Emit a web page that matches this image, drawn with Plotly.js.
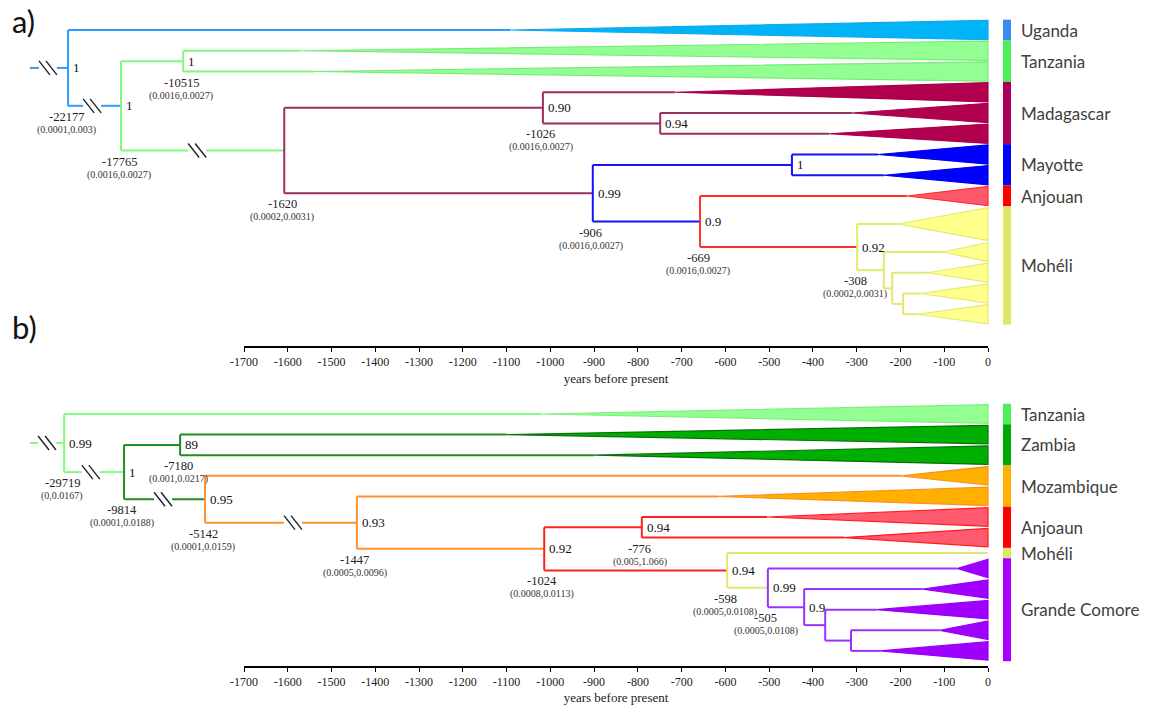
<!DOCTYPE html>
<html><head><meta charset="utf-8">
<script src="https://cdn.plot.ly/plotly-3.0.1.min.js"></script>
<style>html,body{margin:0;padding:0;background:#fff}#chart{width:1163px;height:705px}</style>
</head><body><div id="chart"></div>
<script>
// ================= DATA: tree a) =================
const aTipParent = ['n1','n3','n3','n5','n6','n6','n8','n8','n9','n10','n11','n12','n13','n13'];
const aTipWedgeStart = [-1092,-1570,-1540,-715,-311,-363,-251,-238,-185,-206,-103,-139,-155,-162];
const aTipRows = [1,1,1,1,1,1,1,1,1,1.7,1,1,1,1];
const aTipGroup = ['Uganda','Tanzania','Tanzania','Madagascar','Madagascar','Madagascar','Mayotte','Mayotte','Anjouan','Mohéli','Mohéli','Mohéli','Mohéli','Mohéli'];

const aNodeId = ['n1','n2','n3','n4','n5','n6','n7','n8','n9','n10','n11','n12','n13'];
const aNodeParent = [null,'n1','n2','n2','n4','n5','n4','n7','n7','n9','n10','n11','n12'];
const aNodeX = [-2102,-1981,-1839,-1608,-1017,-749,-903,-448,-658,-299,-238,-219,-194];
const aNodeSupport = ['1','1','1','','0.90','0.94','0.99','1','0.9','0.92','','',''];
const aNodeAge = ['-22177','-17765','-10515','-1620','-1026','','-906','','-669','-308','','',''];
const aNodeCI = ['(0.0001,0.003)','(0.0016,0.0027)','(0.0016,0.0027)','(0.0002,0.0031)','(0.0016,0.0027)','','(0.0016,0.0027)','','(0.0016,0.0027)','(0.0002,0.0031)','','',''];
const aNodeGroup = ['Uganda','Tanzania','Tanzania','Madagascar','Madagascar','Madagascar','Mayotte','Mayotte','Anjouan','Mohéli','Mohéli','Mohéli','Mohéli'];
const aRootStart = -2189;
const aBreakEdge = ['root','n2','n4'];
const aBreakX = [-2148,-2047,-1807];
const aLegendNames = ['Uganda','Tanzania','Madagascar','Mayotte','Anjouan','Mohéli'];

// ================= DATA: tree b) =================
const bTipParent = ['m1','m3','m3','m4','m5','m7','m7','m8','m9','m10','m11','m12','m12'];
const bTipWedgeStart = [-1020,-1100,-900,-199,-617,-505,-329,null,-71,-149,-254,-110,-247];
const bTipRows = [1,1,1,1,1,1,1,0.5,1,1,1,1,1];
const bTipGroup = ['Tanzania','Zambia','Zambia','Mozambique','Mozambique','Anjoaun','Anjoaun','Mohéli','Grande Comore','Grande Comore','Grande Comore','Grande Comore','Grande Comore'];

const bNodeId = ['m1','m2','m3','m4','m5','m6','m7','m8','m9','m10','m11','m12'];
const bNodeParent = [null,'m1','m2','m2','m4','m5','m6','m6','m8','m9','m10','m11'];
const bNodeX = [-2111,-1974,-1846,-1789,-1442,-1014,-791,-596,-503,-420,-372,-313];
const bNodeSupport = ['0.99','1','89','0.95','0.93','0.92','0.94','0.94','0.99','0.9','',''];
const bNodeAge = ['-29719','-9814','-7180','-5142','-1447','-1024','-776','-598','-505','','',''];
const bNodeCI = ['(0,0.0167)','(0.0001,0.0188)','(0.001,0.0217)','(0.0001,0.0159)','(0.0005,0.0096)','(0.0008,0.0113)','(0.005,1.066)','(0.0005,0.0108)','(0.0005,0.0108)','','',''];
const bNodeGroup = ['Tanzania','Zambia','Zambia','Mozambique','Mozambique','Anjoaun','Anjoaun','Mohéli','Grande Comore','Grande Comore','Grande Comore','Grande Comore'];
const bRootStart = -2189;
const bBreakEdge = ['root','m2','m4','m5'];
const bBreakX = [-2150,-2050,-1885,-1588];
const bLegendNames = ['Tanzania','Zambia','Mozambique','Anjoaun','Mohéli','Grande Comore'];

const tickVals = [-1700,-1600,-1500,-1400,-1300,-1200,-1100,-1000,-900,-800,-700,-600,-500,-400,-300,-200,-100,0];
const axisTitle = 'years before present';

// ================= STYLE =================
const W = 1163, H = 705;
const AX_PX0 = 244, AX_PX1 = 988;          // pixel span of -1700..0
const pxPerYear = (AX_PX1 - AX_PX0) / 1700;
const yrAt = p => (p - AX_PX1) / pxPerYear;

const styleA = {
  'Uganda':     {line:'#2F9BFF', fill:'#00B4F5', edge:'#10A8F0', bar:'#3A8CF5'},
  'Tanzania':   {line:'#80F880', fill:'#93FF93', edge:'#78EC78', bar:'#4DEE5A'},
  'Madagascar': {line:'#9B2D62', fill:'#B0004E', edge:'#A8004C', bar:'#A8005A'},
  'Mayotte':    {line:'#1414F5', fill:'#0000FF', edge:'#0000F0', bar:'#0000FF'},
  'Anjouan':    {line:'#FF3030', fill:'#FF5A6A', edge:'#FF2A2A', bar:'#FF0000'},
  'Mohéli':     {line:'#E4E86E', fill:'#FFFF8C', edge:'#E4EA6E', bar:'#DDE86A'}
};
const styleB = {
  'Tanzania':      {line:'#80FF80', fill:'#93FF93', edge:'#7BF07B', bar:'#4DF05A'},
  'Zambia':        {line:'#1E8C1E', fill:'#00B000', edge:'#0A6E0A', bar:'#00A800'},
  'Mozambique':    {line:'#FF9030', fill:'#FFB000', edge:'#FF9020', bar:'#FFB000'},
  'Anjoaun':       {line:'#FF2020', fill:'#FF5A6E', edge:'#FF1A1A', bar:'#FF0000'},
  'Mohéli':        {line:'#E2E66E', fill:'#FFFF8C', edge:'#E2E66E', bar:'#DDE86A'},
  'Grande Comore': {line:'#9B30FF', fill:'#A000FF', edge:'#9A00F0', bar:'#A800FF'}
};

const traces = [];
const annotations = [];
const shapes = [];
const serif = 'Liberation Serif';
const sans = 'Lato';

function buildTree(T, S, top, step, wedgeFrac){
  const tipY = []; let cum = 0;
  T.tipRows.forEach(r => { tipY.push(top + (cum + r/2 - T.tipRows[0]/2) * step); cum += r; });
  const n = T.nodeId.length;
  const idx = {}; T.nodeId.forEach((id,i)=>idx[id]=i);
  const nodeY = new Array(n), nodeTop = new Array(n), nodeBot = new Array(n);
  for (let i = n-1; i >= 0; i--) {
    const ys = [];
    T.tipParent.forEach((p,k)=>{ if(p===T.nodeId[i]) ys.push(tipY[k]); });
    T.nodeParent.forEach((p,k)=>{ if(p===T.nodeId[i]) ys.push(nodeY[k]); });
    nodeTop[i] = Math.min(...ys); nodeBot[i] = Math.max(...ys);
    nodeY[i] = (nodeTop[i] + nodeBot[i]) / 2;
  }
  const lines = {}; Object.keys(S).forEach(g => lines[g] = {x:[], y:[]});
  const slash = {x:[], y:[]};
  const gap = 9 / pxPerYear, sw = 11 / pxPerYear, so = 7 / pxPerYear, sh = 7;
  const breakFor = key => { const j = T.breakEdge.indexOf(key); return j < 0 ? null : T.breakX[j]; };
  function hseg(g, x0, x1, y, key){
    const b = breakFor(key);
    const L = lines[g];
    if (b === null) { L.x.push(x0, x1, null); L.y.push(y, y, null); }
    else {
      L.x.push(x0, b - gap, null, b + gap, x1, null); L.y.push(y, y, null, y, y, null);
      slash.x.push(b - so/2 - sw/2, b - so/2 + sw/2, null, b + so/2 - sw/2, b + so/2 + sw/2, null);
      slash.y.push(y - sh, y + sh, null, y - sh, y + sh, null);
    }
  }
  const r = T.nodeParent.indexOf(null);
  hseg(T.nodeGroup[r], T.rootStart, T.nodeX[r], nodeY[r], 'root');
  for (let i = 0; i < n; i++) {
    const p = T.nodeParent[i];
    if (p !== null) hseg(T.nodeGroup[idx[p]], T.nodeX[idx[p]], T.nodeX[i], nodeY[i], T.nodeId[i]);
    const L = lines[T.nodeGroup[i]];
    L.x.push(T.nodeX[i], T.nodeX[i], null); L.y.push(nodeTop[i], nodeBot[i], null);
  }
  T.tipParent.forEach((p,k) => {
    const pi = idx[p];
    const ws = T.wedgeStart[k];
    hseg(T.nodeGroup[pi], T.nodeX[pi], ws === null ? 0 : ws, tipY[k], 'tip'+k);
    if (ws !== null) {
      const h = wedgeFrac * T.tipRows[k] * step / 2;
      const st = S[T.tipGroup[k]];
      traces.push({type:'scatter', mode:'lines', x:[ws, 0, 0, ws], y:[tipY[k], tipY[k]-h, tipY[k]+h, tipY[k]],
        fill:'toself', fillcolor:st.fill, line:{color:st.edge, width:1.2}, hoverinfo:'skip', showlegend:false, xaxis:'x', yaxis:'y'});
    }
  });
  Object.keys(lines).forEach(g => {
    if (lines[g].x.length) traces.push({type:'scatter', mode:'lines', x:lines[g].x, y:lines[g].y,
      line:{color:S[g].line, width:2}, hoverinfo:'skip', showlegend:false, xaxis:'x', yaxis:'y'});
  });
  traces.push({type:'scatter', mode:'lines', x:slash.x, y:slash.y, line:{color:'#222', width:1.4},
    hoverinfo:'skip', showlegend:false, xaxis:'x', yaxis:'y'});
  for (let i = 0; i < n; i++) {
    if (T.support[i]) annotations.push({x:T.nodeX[i], y:nodeY[i], xref:'x', yref:'y', text:T.support[i], showarrow:false,
      xanchor:'left', yanchor:'middle', xshift:3, font:{family:serif, size:13, color:'#111'}});
    if (T.age[i]) annotations.push({x:T.nodeX[i], y:nodeBot[i] + 11, xref:'x', yref:'y', text:T.age[i], showarrow:false,
      xanchor:'center', yanchor:'middle', xshift:-2, font:{family:serif, size:12.5, color:'#222'}});
    if (T.ci[i]) annotations.push({x:T.nodeX[i], y:nodeBot[i] + 24, xref:'x', yref:'y', text:T.ci[i], showarrow:false,
      xanchor:'center', yanchor:'middle', xshift:-2, font:{family:serif, size:10, color:'#333'}});
  }
  T.legend.forEach(g => {
    const ks = []; T.tipGroup.forEach((tg,k)=>{ if(tg===g) ks.push(k); });
    const y0 = tipY[ks[0]] - T.tipRows[ks[0]]*step/2;
    const y1 = tipY[ks[ks.length-1]] + T.tipRows[ks[ks.length-1]]*step/2;
    shapes.push({type:'rect', xref:'paper', yref:'y', x0:1003/W, x1:1011/W, y0:y0, y1:y1,
      fillcolor:S[g].bar, line:{width:0}});
    annotations.push({xref:'paper', yref:'y', x:1019/W, y:(y0+y1)/2, text:g, showarrow:false,
      xanchor:'left', yanchor:'middle', font:{family:sans, size:17, color:'#404040'}});
  });
}

buildTree({tipParent:aTipParent, wedgeStart:aTipWedgeStart, tipRows:aTipRows, tipGroup:aTipGroup,
  nodeId:aNodeId, nodeParent:aNodeParent, nodeX:aNodeX, support:aNodeSupport, age:aNodeAge, ci:aNodeCI,
  nodeGroup:aNodeGroup, rootStart:aRootStart, breakEdge:aBreakEdge, breakX:aBreakX, legend:aLegendNames},
  styleA, 30, 20.75, 0.93);
buildTree({tipParent:bTipParent, wedgeStart:bTipWedgeStart, tipRows:bTipRows, tipGroup:bTipGroup,
  nodeId:bNodeId, nodeParent:bNodeParent, nodeX:bNodeX, support:bNodeSupport, age:bNodeAge, ci:bNodeCI,
  nodeGroup:bNodeGroup, rootStart:bRootStart, breakEdge:bBreakEdge, breakX:bBreakX, legend:bLegendNames},
  styleB, 414, 20.6, 0.9);

annotations.push({xref:'paper', yref:'paper', x:10/W, y:1-21/H, text:'a)', showarrow:false, xanchor:'left', yanchor:'middle',
  font:{family:sans, size:31, color:'#111'}});
annotations.push({xref:'paper', yref:'paper', x:10/W, y:1-327/H, text:'b)', showarrow:false, xanchor:'left', yanchor:'middle',
  font:{family:sans, size:31, color:'#111'}});

traces.push({type:'scatter', mode:'markers', x:[-1700,0], y:[0,0], marker:{opacity:0}, hoverinfo:'skip', showlegend:false, xaxis:'x2', yaxis:'y2'});
traces.push({type:'scatter', mode:'markers', x:[-1700,0], y:[0,0], marker:{opacity:0}, hoverinfo:'skip', showlegend:false, xaxis:'x3', yaxis:'y3'});

function timeAxis(anchor){
  return {domain:[AX_PX0/W, AX_PX1/W], range:[-1700,0], anchor:anchor, tickmode:'array', tickvals:tickVals,
    ticktext:tickVals.map(String), ticks:'outside', ticklen:4, tickwidth:1, tickcolor:'#000',
    showline:true, linewidth:2, linecolor:'#000', showgrid:false, zeroline:false, fixedrange:true,
    tickfont:{family:serif, size:12, color:'#222'},
    title:{text:axisTitle, font:{family:serif, size:13, color:'#222'}, standoff:5}};
}
const ax1 = 1 - 346/H, ax2 = 1 - 666/H;
const layout = {
  width:W, height:H, margin:{l:0, r:0, t:0, b:0}, paper_bgcolor:'#fff', plot_bgcolor:'rgba(0,0,0,0)',
  showlegend:false, hovermode:false,
  xaxis:{domain:[0,1], range:[yrAt(0), yrAt(W)], visible:false, fixedrange:true},
  yaxis:{domain:[0,1], range:[H,0], visible:false, fixedrange:true},
  xaxis2:timeAxis('y2'),
  yaxis2:{domain:[ax1, ax1+0.01], visible:false, anchor:'x2', fixedrange:true},
  xaxis3:timeAxis('y3'),
  yaxis3:{domain:[ax2, ax2+0.01], visible:false, anchor:'x3', fixedrange:true},
  annotations:annotations, shapes:shapes
};
Plotly.newPlot('chart', traces, layout, {staticPlot:true, displayModeBar:false});
</script></body></html>
